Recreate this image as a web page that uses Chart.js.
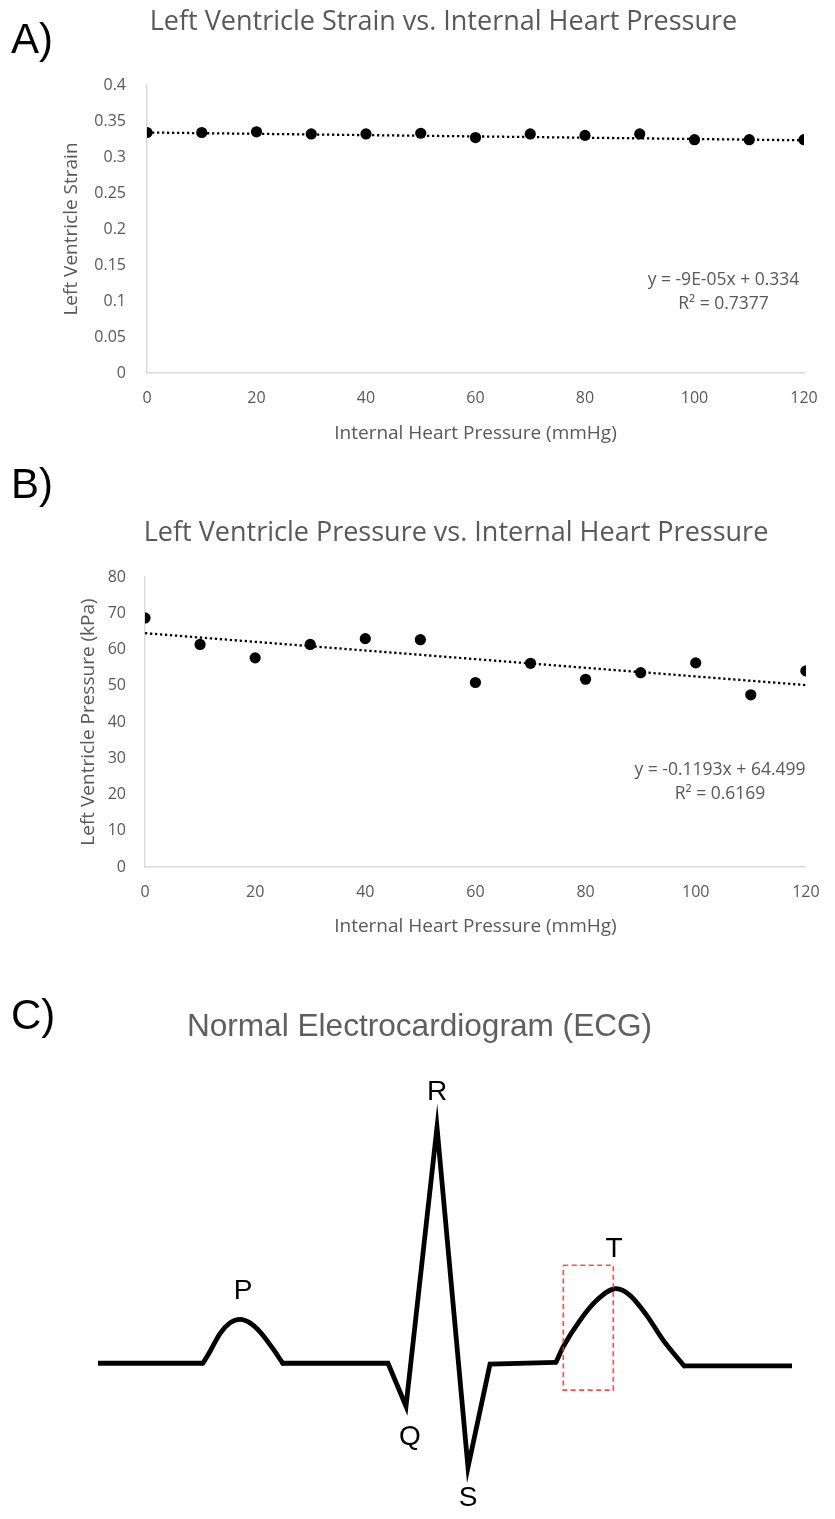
<!DOCTYPE html>
<html>
<head>
<meta charset="utf-8">
<title>Left ventricle mechanics and ECG</title>
<script src="https://cdn.jsdelivr.net/npm/chart.js@4.4.1/dist/chart.umd.min.js"></script>
<style>
  html, body { margin: 0; padding: 0; background: #ffffff; }
  #page { position: relative; width: 835px; height: 1519px; overflow: hidden; background: #ffffff; }
  #page canvas { position: absolute; left: 0; display: block; }
</style>
</head>
<body>
<div id="page">
  <canvas id="strainChart" width="835" height="460" style="top:0px"></canvas>
  <canvas id="pressureChart" width="835" height="495" style="top:460px"></canvas>
  <canvas id="ecgChart" width="835" height="564" style="top:955px"></canvas>
</div>
<script>
// ---------- Panel A / B data: internal heart pressure sweep ----------
const internalPressure = [0, 10, 20, 30, 40, 50, 60, 70, 80, 90, 100, 110, 120];
const xTickValues = [0, 20, 40, 60, 80, 100, 120];

const lvStrain = [0.334, 0.334, 0.335, 0.332, 0.332, 0.333, 0.327, 0.332, 0.330, 0.332, 0.324, 0.324, 0.324];
const strainTickValues = [0, 0.05, 0.1, 0.15, 0.2, 0.25, 0.3, 0.35, 0.4];
const strainFit = { slope: -9e-5, intercept: 0.334 };
const strainFitText = ['y = -9E-05x + 0.334', 'R\u00B2 = 0.7377'];

const lvPressure = [68.7, 61.4, 57.7, 61.4, 63.0, 62.7, 50.9, 56.2, 51.8, 53.6, 56.3, 47.5, 54.1];
const pressureTickValues = [0, 10, 20, 30, 40, 50, 60, 70, 80];
const pressureFit = { slope: -0.1193, intercept: 64.499 };
const pressureFitText = ['y = -0.1193x + 64.499', 'R\u00B2 = 0.6169'];

// ---------- Panel C data: one schematic heartbeat (time units, amplitude in mV) ----------
const leadInT  = [98, 203];
const leadInV  = [0.0, 0.0];
const pWaveT   = [203, 210, 220, 230, 240, 250, 260, 271.7, 282.7];
const pWaveV   = [0.0, 0.05, 0.126, 0.171, 0.186, 0.171, 0.133, 0.069, 0.0];
const qrsT     = [282.7, 388, 406, 437, 468, 490, 556];
const qrsV     = [0.0, 0.0, -0.182, 1.0, -0.441, -0.004, 0.004];
const tWaveT   = [556, 563.3, 580, 596.7, 616, 630, 646.7, 663.3, 684];
const tWaveV   = [0.004, 0.07, 0.182, 0.267, 0.316, 0.288, 0.203, 0.097, -0.011];
const leadOutT = [684, 792];
const leadOutV = [-0.011, -0.011];
const windowT  = [563.3, 613.3, 613.3, 563.3, 563.3];
const windowV  = [0.415, 0.415, -0.114, -0.114, 0.415];
const waveNames = ['P', 'Q', 'R', 'S', 'T'];

// ---------- shared helpers ----------
const SANS = '"Open Sans", "DejaVu Sans", sans-serif';
const ARIAL = '"Liberation Sans", Arial, sans-serif';
const GREY = '#595959';
const AXIS = '#d9d9d9';

const pairs = (xs, ys) => xs.map((x, i) => ({ x: x, y: ys[i] }));
const useTicks = values => scale => { scale.ticks = values.map(v => ({ value: v })); };
const fixedWidth = w => scale => { scale.width = w; };
const fixedHeight = h => scale => { scale.height = h; };
const plainNumber = v => String(+Number(v).toFixed(4));

// Panel tag ("A)") and heading drawn on the canvas
const panelHeading = {
  id: 'panelHeading',
  afterDraw(chart, args, o) {
    const ctx = chart.ctx;
    ctx.save();
    ctx.fillStyle = '#000000';
    ctx.font = o.tagSize + 'px ' + ARIAL;
    ctx.textAlign = 'left';
    ctx.textBaseline = 'alphabetic';
    ctx.fillText(o.tag, o.tagX, o.tagBaseline);
    ctx.fillStyle = o.titleColor;
    ctx.font = o.titleFont;
    ctx.textAlign = 'center';
    ctx.textBaseline = 'middle';
    ctx.fillText(o.title, o.titleX, o.titleY);
    ctx.restore();
  }
};

// Trendline equation block
const fitNote = {
  id: 'fitNote',
  afterDraw(chart, args, o) {
    const ctx = chart.ctx;
    ctx.save();
    ctx.fillStyle = GREY;
    ctx.font = o.size + 'px ' + SANS;
    ctx.textAlign = 'center';
    ctx.textBaseline = 'middle';
    o.lines.forEach((line, i) => ctx.fillText(line, o.x, o.y + i * o.gap));
    ctx.restore();
  }
};

// Wave letters placed next to their feature points
const waveLetters = {
  id: 'waveLetters',
  afterDatasetsDraw(chart, args, o) {
    const ctx = chart.ctx;
    ctx.save();
    ctx.fillStyle = '#000000';
    ctx.font = o.size + 'px ' + ARIAL;
    ctx.textAlign = 'center';
    ctx.textBaseline = 'middle';
    o.anchors.forEach((a, i) => {
      const el = chart.getDatasetMeta(a.dataset).data[a.index];
      ctx.fillText(o.names[i], el.x + a.dx, el.y + a.dy);
    });
    ctx.restore();
  }
};

function scatterPanel(id, cfg) {
  const x0 = internalPressure[0];
  const x1 = internalPressure[internalPressure.length - 1];
  const trend = [
    { x: x0, y: cfg.fit.intercept + cfg.fit.slope * x0 },
    { x: x1, y: cfg.fit.intercept + cfg.fit.slope * x1 }
  ];
  return new Chart(document.getElementById(id), {
    type: 'scatter',
    data: {
      datasets: [
        {
          data: pairs(internalPressure, cfg.values),
          pointRadius: 5.6,
          pointBackgroundColor: '#000000',
          pointBorderColor: '#000000',
          pointBorderWidth: 0,
          order: 0
        },
        {
          data: trend,
          showLine: true,
          pointRadius: 0,
          borderColor: '#000000',
          borderWidth: 2.3,
          borderDash: [2.3, 2.7],
          borderCapStyle: 'butt',
          order: 1
        }
      ]
    },
    options: {
      responsive: false,
      animation: false,
      events: [],
      layout: { padding: { left: 0, right: cfg.padRight, top: cfg.padTop, bottom: 0 } },
      plugins: {
        legend: { display: false },
        tooltip: { enabled: false },
        title: { display: false },
        panelHeading: {
          tag: cfg.tag, tagX: 11, tagBaseline: cfg.tagBaseline, tagSize: 42,
          title: cfg.title, titleX: cfg.titleX, titleY: cfg.titleY,
          titleColor: GREY, titleFont: '27px ' + SANS
        },
        fitNote: { lines: cfg.fitText, x: cfg.noteX, y: cfg.noteY, gap: 24, size: 17.5 }
      },
      scales: {
        x: {
          type: 'linear',
          min: 0,
          max: 120,
          afterBuildTicks: useTicks(xTickValues),
          afterFit: fixedHeight(cfg.xHeight),
          grid: { display: false, drawTicks: false },
          border: { display: true, color: AXIS, width: 1.4 },
          ticks: { padding: 15.4, color: GREY, font: { family: SANS, size: 16 }, autoSkip: false, maxRotation: 0, callback: plainNumber },
          title: { display: true, text: 'Internal Heart Pressure (mmHg)', color: GREY, font: { family: SANS, size: 19 }, padding: { top: 0, bottom: cfg.xTitlePad } }
        },
        y: {
          type: 'linear',
          min: cfg.yMin,
          max: cfg.yMax,
          afterBuildTicks: useTicks(cfg.yTicks),
          afterFit: fixedWidth(cfg.yWidth),
          grid: { display: false, drawTicks: false },
          border: { display: true, color: AXIS, width: 1.4 },
          ticks: { padding: cfg.yTickPad, color: GREY, font: { family: SANS, size: 16 }, autoSkip: false, callback: plainNumber },
          title: { display: true, text: cfg.yTitle, color: GREY, font: { family: SANS, size: 19 }, padding: { top: cfg.yTitlePad, bottom: 0 } }
        }
      }
    },
    plugins: [panelHeading, fitNote]
  });
}

function ecgPanel(id) {
  const line = (xs, ys, extra) => Object.assign({
    data: pairs(xs, ys),
    showLine: true,
    pointRadius: 0,
    borderColor: '#000000',
    borderWidth: 4.8,
    borderCapStyle: 'round',
    borderJoinStyle: 'miter',
    tension: 0,
    order: 1
  }, extra || {});
  return new Chart(document.getElementById(id), {
    type: 'scatter',
    data: {
      datasets: [
        line(leadInT, leadInV, { borderCapStyle: 'butt' }),
        line(pWaveT, pWaveV, { cubicInterpolationMode: 'monotone' }),
        line(qrsT, qrsV),
        line(tWaveT, tWaveV, { cubicInterpolationMode: 'monotone' }),
        line(leadOutT, leadOutV, { borderCapStyle: 'butt' }),
        line(windowT, windowV, { borderColor: 'rgba(255, 45, 45, 0.85)', borderWidth: 1.6, borderDash: [5, 3.5], borderCapStyle: 'butt', order: -1 })
      ]
    },
    options: {
      responsive: false,
      animation: false,
      events: [],
      layout: { padding: 0 },
      plugins: {
        legend: { display: false },
        tooltip: { enabled: false },
        title: { display: false },
        panelHeading: {
          tag: 'C)', tagX: 11, tagBaseline: 74, tagSize: 42,
          title: 'Normal Electrocardiogram (ECG)', titleX: 419.5, titleY: 72,
          titleColor: '#5f5f5f', titleFont: '31.6px ' + ARIAL
        },
        waveLetters: {
          names: waveNames,
          size: 28,
          anchors: [
            { dataset: 1, index: 4, dx: 3, dy: -28 },
            { dataset: 2, index: 2, dx: 4, dy: 31 },
            { dataset: 2, index: 3, dx: 0, dy: -35 },
            { dataset: 2, index: 4, dx: 0, dy: 31 },
            { dataset: 3, index: 4, dx: -2, dy: -39 }
          ]
        }
      },
      scales: {
        x: { type: 'linear', min: 0, max: 835, display: false },
        y: { type: 'linear', min: -0.66, max: 1.73, display: false }
      }
    },
    plugins: [panelHeading, waveLetters]
  });
}

function drawAll() {
  scatterPanel('strainChart', {
    tag: 'A)', tagBaseline: 53,
    title: 'Left Ventricle Strain vs. Internal Heart Pressure', titleX: 443.5, titleY: 22,
    values: lvStrain, fit: strainFit, fitText: strainFitText,
    noteX: 723.5, noteY: 280,
    yMin: 0, yMax: 0.4, yTicks: strainTickValues, yTitle: 'Left Ventricle Strain',
    padTop: 85, padRight: 31, yWidth: 147, xHeight: 87,
    yTickPad: 21, yTitlePad: 60.6, xTitlePad: 14.6
  });
  scatterPanel('pressureChart', {
    tag: 'B)', tagBaseline: 38,
    title: 'Left Ventricle Pressure vs. Internal Heart Pressure', titleX: 456, titleY: 73,
    values: lvPressure, fit: pressureFit, fitText: pressureFitText,
    noteX: 720, noteY: 310,
    yMin: 0, yMax: 80, yTicks: pressureTickValues, yTitle: 'Left Ventricle Pressure (kPa)',
    padTop: 117, padRight: 17, yWidth: 145, xHeight: 88,
    yTickPad: 19, yTitlePad: 77.1, xTitlePad: 16.6
  });
  ecgPanel('ecgChart');
}

if (document.fonts && document.fonts.ready) {
  document.fonts.ready.then(drawAll);
} else {
  drawAll();
}
</script>
</body>
</html>
